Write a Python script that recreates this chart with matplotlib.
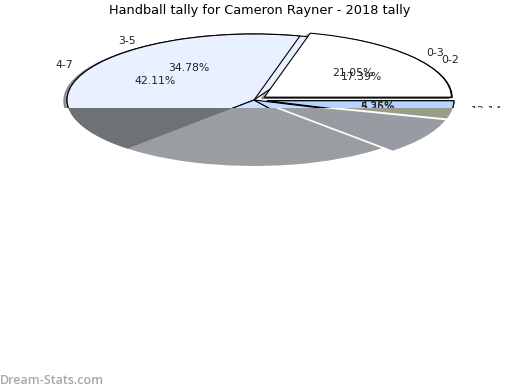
import matplotlib
matplotlib.use('Agg')
import matplotlib.pyplot as plt
from matplotlib.patches import Rectangle

# two tallies, stacked on one another
title = 'Handball tally for Cameron Rayner - 2018 tally'
labels_a = ['0-3', '4-7', '8-11', '12-15', '16-19']
values_a = [4, 8, 4, 2, 1]
labels_b = ['0-2', '3-5', '6-8', '9-11', '12-14']
values_b = [4, 8, 8, 2, 1]

explode_a = [0.07, 0, 0, 0, 0.07]
explode_b = [0.07, 0, 0, 0.07, 0.07]
colors_top_a = ['white', '#e9f0ff', '#cfe0ff', '#c3dbff', '#b5d4ff']
colors_top_b = ['#303030', '#e9f0ff', '#cfe0ff', '#c3dbff', '#b5d4ff']
colors_low_b = ['#9a9da1', '#9a9da1', '#9a9da1', '#979ca3', '#9b9d8c']
colors_low_a = ['none', '#6e7175', 'none', 'none', 'none']

fig = plt.figure(figsize=(5.2, 3.9), dpi=100)
ax = fig.add_axes([0, 0, 1, 1])
cut = -8 / 66


def clip_to(artists, rect):
    for a in artists:
        a.set_clip_on(True)
        a.set_clip_path(rect)


def top_pie(values, labels, explode, colors):
    before = len(ax.patches)
    wedges, texts, pcts = ax.pie(values, labels=labels, explode=explode, colors=colors,
                                 autopct='%.2f%%', startangle=0, counterclock=True,
                                 wedgeprops={'edgecolor': 'black', 'linewidth': 0.8},
                                 textprops={'fontsize': 7.8, 'color': '#222222'},
                                 shadow={'ox': -0.012, 'oy': -0.01, 'shade': 0.5})
    rect = Rectangle((-2, cut), 4, 3, transform=ax.transData)
    clip_to(ax.patches[before:], rect)
    clip_to(texts + pcts, rect)


def low_pie(values, explode, colors):
    wedges, _ = ax.pie(values, explode=explode, colors=colors, startangle=0,
                       wedgeprops={'edgecolor': 'none'})
    clip_to(wedges, Rectangle((-2, -3), 4, 3 + cut, transform=ax.transData))


top_pie(values_b, labels_b, explode_b, colors_top_b)
top_pie(values_a, labels_a, explode_a, colors_top_a)
low_pie(values_b, explode_b, colors_low_b)
low_pie(values_a, explode_a, colors_low_a)

# squash the pie: 187 x 66 px around (254, 100)
ax.set_aspect('auto')
ax.set_xlim(-254 / 187, 266 / 187)
ax.set_ylim(-290 / 66, 100 / 66)
ax.axis('off')

fig.text(0.5, 0.973, title, ha='center', va='center', fontsize=9.3)
fig.text(0.0, 0.025, 'Dream-Stats.com', ha='left', va='center', fontsize=9,
         color='#a8a8a8', family='Open Sans', fontweight='semibold')
fig.savefig('out.png', dpi=100)
